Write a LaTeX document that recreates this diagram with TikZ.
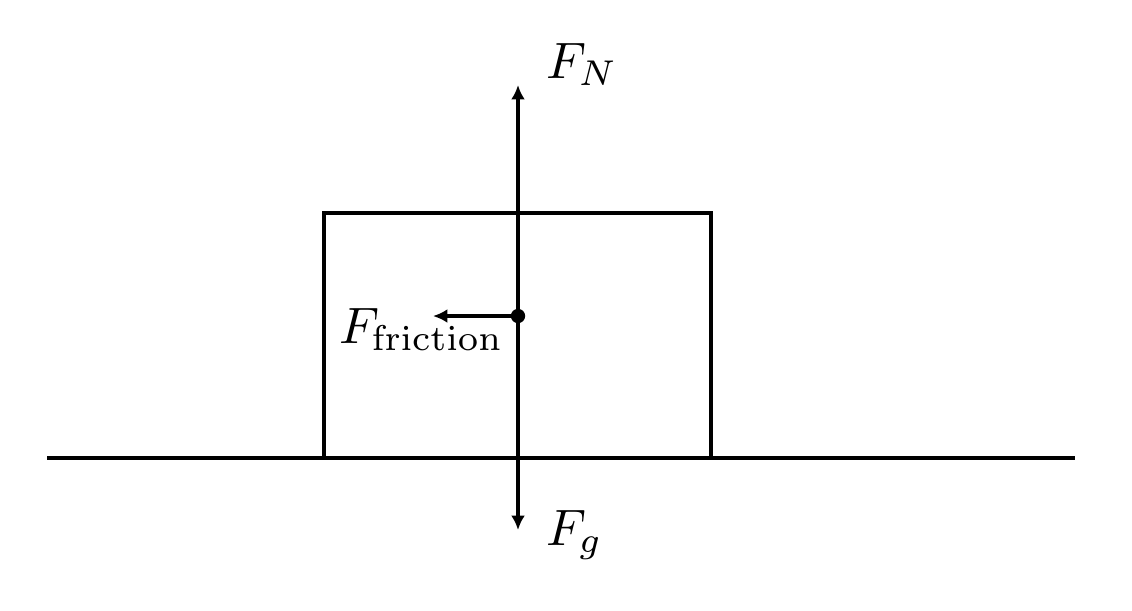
\documentclass[tikz,border=0pt]{standalone}
\usetikzlibrary{arrows.meta}
\begin{document}
\begin{tikzpicture}[x=0.1953pt,y=-0.1953pt,
  line/.style={line width=0.6pt},
  force/.style={line width=0.6pt,-{Latex[length=2.8pt,width=2.7pt]}},
  lbl/.style={inner sep=0pt,anchor=base west}]
\useasboundingbox (0,0) rectangle (1132,610);
\coordinate (gl) at (47,458);
\coordinate (gr) at (1075,458);
\draw[line] (gl) -- (gr);
\draw[line] (324,458) rectangle (711,213);
\coordinate (c) at (518,316);
\coordinate (tN) at (518,85);
\coordinate (tg) at (518,530);
\coordinate (tf) at (433,316);
\draw[force] (c) -- (tN);
\draw[force] (c) -- (tg);
\draw[force] (c) -- (tf);
\fill (c) circle (1.4pt);
\node[lbl] (FN) at (545,78) {$F_N$};
\node[lbl] (Fg) at (545,545) {$F_g$};
\node[lbl] (Ff) at (338,343) {$F_{\mathrm{friction}}$};
\end{tikzpicture}
\end{document}
